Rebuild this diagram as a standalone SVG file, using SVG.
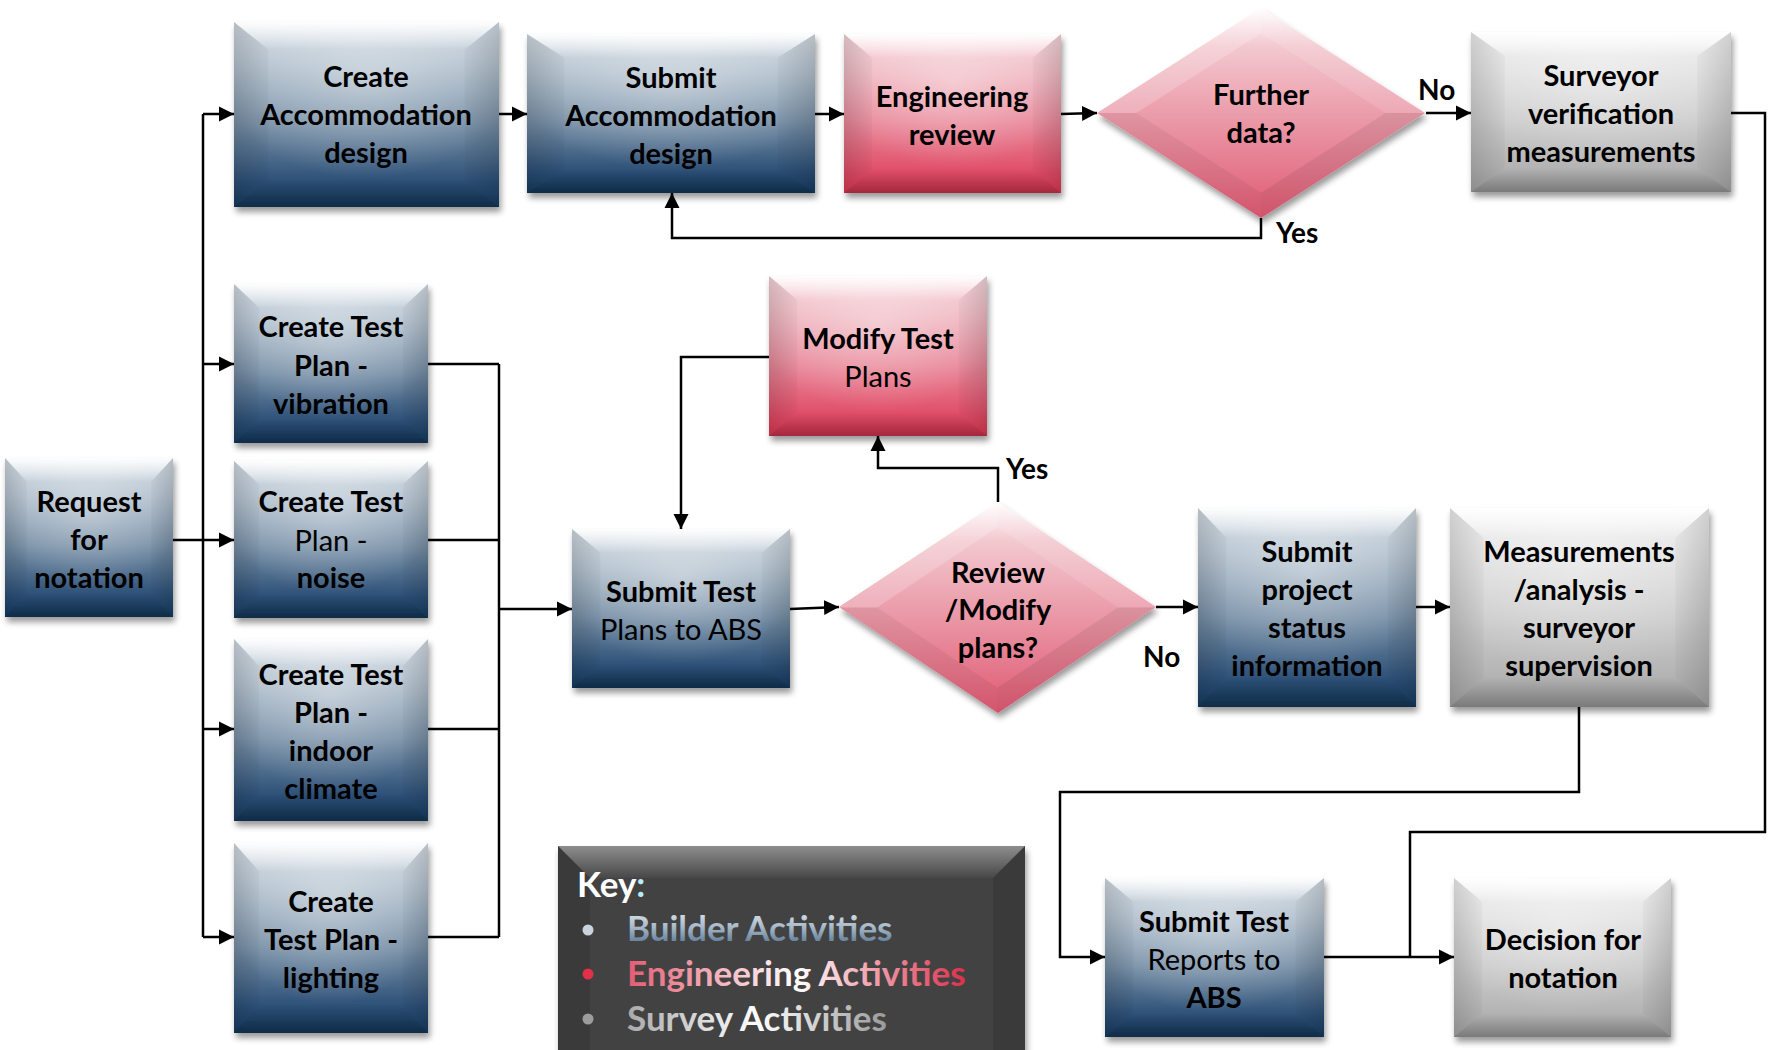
<svg xmlns="http://www.w3.org/2000/svg" xmlns:xlink="http://www.w3.org/1999/xlink" width="1769" height="1050" viewBox="0 0 1769 1050">
<style>
.t{font-family:Lato,"Liberation Sans",sans-serif;font-weight:700;font-size:29px;text-anchor:middle;fill:#000}
.r{font-weight:400}
.lb{font-family:Lato,"Liberation Sans",sans-serif;font-weight:700;font-size:28px;fill:#000}
.c{fill:none;stroke:#000;stroke-width:2.5}
.ca{fill:none;stroke:#000;stroke-width:2.5;marker-end:url(#arr)}
.blue{fill:url(#gBlue);filter:url(#sh)}
.red{fill:url(#gRed);filter:url(#sh)}
.gray{fill:url(#gGray);filter:url(#sh)}
.kt{font-family:Lato,"Liberation Sans",sans-serif;font-weight:700;font-size:35px}
</style>
<defs>
<filter id="sh" x="-10%" y="-10%" width="125%" height="125%">
<feGaussianBlur in="SourceAlpha" stdDeviation="3"/>
<feOffset dx="2" dy="5" result="o"/>
<feComponentTransfer><feFuncA type="linear" slope="0.4"/></feComponentTransfer>
<feMerge><feMergeNode/><feMergeNode in="SourceGraphic"/></feMerge>
</filter>
<linearGradient id="gBlue" x1="0" y1="0" x2="0" y2="1">
<stop offset="0" stop-color="#d6dee6"/><stop offset="0.25" stop-color="#b0bfcc"/><stop offset="0.55" stop-color="#7890a7"/><stop offset="0.85" stop-color="#2f5279"/><stop offset="1" stop-color="#143a5f"/>
</linearGradient>
<linearGradient id="gRed" x1="0" y1="0" x2="0" y2="1">
<stop offset="0" stop-color="#f7d9de"/><stop offset="0.25" stop-color="#f0b8c2"/><stop offset="0.55" stop-color="#e98a9b"/><stop offset="0.85" stop-color="#e1506a"/><stop offset="1" stop-color="#da3550"/>
</linearGradient>
<linearGradient id="gGray" x1="0" y1="0" x2="0" y2="1">
<stop offset="0" stop-color="#f2f2f2"/><stop offset="0.25" stop-color="#e2e2e2"/><stop offset="0.55" stop-color="#cdcdcd"/><stop offset="0.85" stop-color="#b3b3b3"/><stop offset="1" stop-color="#a3a3a3"/>
</linearGradient>
<radialGradient id="glow" cx="0.5" cy="0.3" r="0.55">
<stop offset="0" stop-color="#fff" stop-opacity="0.35"/><stop offset="1" stop-color="#fff" stop-opacity="0"/>
</radialGradient>
<linearGradient id="gRedD" x1="0" y1="0" x2="0" y2="1">
<stop offset="0" stop-color="#ffffff"/><stop offset="0.18" stop-color="#f3c9d0"/><stop offset="0.5" stop-color="#eb9dab"/><stop offset="1" stop-color="#e05a73"/>
</linearGradient>
<linearGradient id="bevTop" x1="0" y1="0" x2="0" y2="1">
<stop offset="0" stop-color="#fff" stop-opacity="0.95"/><stop offset="1" stop-color="#fff" stop-opacity="0"/>
</linearGradient>
<linearGradient id="bevBot" x1="0" y1="0" x2="0" y2="1">
<stop offset="0" stop-color="#000" stop-opacity="0"/><stop offset="1" stop-color="#000" stop-opacity="0.25"/>
</linearGradient>
<linearGradient id="bevL" x1="0" y1="0" x2="1" y2="0">
<stop offset="0" stop-color="#000" stop-opacity="0.14"/><stop offset="1" stop-color="#000" stop-opacity="0.03"/>
</linearGradient>
<linearGradient id="bevR" x1="1" y1="0" x2="0" y2="0">
<stop offset="0" stop-color="#000" stop-opacity="0.14"/><stop offset="1" stop-color="#000" stop-opacity="0.03"/>
</linearGradient>
<linearGradient id="kTop" x1="0" y1="0" x2="0" y2="1">
<stop offset="0" stop-color="#fff" stop-opacity="0.4"/><stop offset="1" stop-color="#fff" stop-opacity="0.03"/>
</linearGradient>
<linearGradient id="gBuild" x1="0" y1="0" x2="0" y2="1">
<stop offset="0" stop-color="#eef2f6"/><stop offset="0.5" stop-color="#a7b8c8"/><stop offset="1" stop-color="#4a6b8a"/>
</linearGradient>
<linearGradient id="gEng" x1="0" y1="0" x2="1" y2="0">
<stop offset="0" stop-color="#e45b72"/><stop offset="0.5" stop-color="#ffffff"/><stop offset="1" stop-color="#dc2f4a"/>
</linearGradient>
<linearGradient id="gSur" x1="0" y1="0" x2="1" y2="0">
<stop offset="0" stop-color="#a9a9a9"/><stop offset="0.5" stop-color="#ffffff"/><stop offset="1" stop-color="#9a9a9a"/>
</linearGradient>
<symbol id="bev" viewBox="0 0 100 100" preserveAspectRatio="none">
<rect width="100" height="100" fill="url(#glow)"/>
<polygon points="0,0 100,0 87,15 13,15" fill="url(#bevTop)"/>
<polygon points="0,0 13,15 13,85 0,100" fill="url(#bevL)"/>
<polygon points="100,0 87,15 87,85 100,100" fill="url(#bevR)"/>
<polygon points="0,100 13,85 87,85 100,100" fill="url(#bevBot)"/>
</symbol>
<symbol id="dbev" viewBox="0 0 100 100" preserveAspectRatio="none">
<polygon points="0,50 50,0 50,12 12,50" fill="#fff" fill-opacity="0.2"/>
<polygon points="50,0 100,50 88,50 50,12" fill="#fff" fill-opacity="0.12"/>
<polygon points="100,50 50,100 50,88 88,50" fill="#000" fill-opacity="0.07"/>
<polygon points="0,50 12,50 50,88 50,100" fill="#000" fill-opacity="0.05"/>
</symbol>
<marker id="arr" markerUnits="userSpaceOnUse" markerWidth="16" markerHeight="16" viewBox="0 0 16 16" refX="15" refY="8" orient="auto">
<path d="M0,0.5 L15,8 L0,15.5 z" fill="#000"/>
</marker>
</defs>
<rect width="1769" height="1050" fill="#fff"/>

<g id="connectors">
<path class="c" d="M173,540 H203" stroke-width="3.5"/>
<path class="c" d="M203,114 V937"/>
<path class="ca" d="M203,114 H234"/>
<path class="ca" d="M203,364 H234"/>
<path class="ca" d="M203,540 H234"/>
<path class="ca" d="M203,729 H234"/>
<path class="ca" d="M203,937 H234"/>
<path class="c" d="M428,364 H499 M428,540 H499 M428,729 H499 M428,937 H499 M499,364 V937"/>
<path class="ca" d="M499,609 H572"/>
<path class="ca" d="M499,114 H527"/>
<path class="ca" d="M815,114 H844"/>
<path class="ca" d="M1061,114 L1097,113"/>
<path class="ca" d="M1426,113 H1471"/>
<path class="ca" d="M1261,218 V238 H672 V193"/>
<path class="c" d="M1731,113 H1765 V832 H1410 V957"/>
<path class="ca" d="M790,609 L839,607"/>
<path class="ca" d="M998,502 V468 H878 V436"/>
<path class="ca" d="M769,357 H681 V529"/>
<path class="ca" d="M1156,607 H1198"/>
<path class="ca" d="M1416,607 H1450"/>
<path class="ca" d="M1579,707 V792 H1060 V957 H1105"/>
<path class="ca" d="M1324,957 H1454"/>
<text class="lb" x="1418" y="100">No</text>
<text class="lb" x="1276" y="243">Yes</text>
<text class="lb" x="1006" y="479">Yes</text>
<text class="lb" x="1143" y="667">No</text>
</g>

<g id="n-create-acc">
<rect class="blue" x="234" y="22" width="265" height="185"/>
<use xlink:href="#bev" x="234" y="22" width="265" height="185"/>
<text class="t" x="366" y="87">Create</text>
<text class="t" x="366" y="125">Accommodation</text>
<text class="t" x="366" y="163">design</text>
</g>
<g id="n-submit-acc">
<rect class="blue" x="527" y="34" width="288" height="159"/>
<use xlink:href="#bev" x="527" y="34" width="288" height="159"/>
<text class="t" x="671" y="88">Submit</text>
<text class="t" x="671" y="126">Accommodation</text>
<text class="t" x="671" y="164">design</text>
</g>
<g id="n-eng-review">
<rect class="red" x="844" y="34" width="217" height="159"/>
<use xlink:href="#bev" x="844" y="34" width="217" height="159"/>
<text class="t" x="952" y="107">Engineering</text>
<text class="t" x="952" y="145">review</text>
</g>
<g id="n-further">
<polygon points="1261,8 1425,113 1261,218 1097,113" fill="url(#gRedD)" filter="url(#sh)"/>
<use xlink:href="#dbev" x="1097" y="8" width="328" height="210"/>
<text class="t" x="1261" y="105">Further</text>
<text class="t" x="1261" y="143">data?</text>
</g>
<g id="n-surveyor-verif">
<rect class="gray" x="1471" y="32" width="260" height="160"/>
<use xlink:href="#bev" x="1471" y="32" width="260" height="160"/>
<text class="t" x="1601" y="86">Surveyor</text>
<text class="t" x="1601" y="124">verification</text>
<text class="t" x="1601" y="162">measurements</text>
</g>
<g id="n-request">
<rect class="blue" x="5" y="458" width="168" height="159"/>
<use xlink:href="#bev" x="5" y="458" width="168" height="159"/>
<text class="t" x="89" y="512">Request</text>
<text class="t" x="89" y="550">for</text>
<text class="t" x="89" y="588">notation</text>
</g>
<g id="n-plan-vibration">
<rect class="blue" x="234" y="284" width="194" height="159"/>
<use xlink:href="#bev" x="234" y="284" width="194" height="159"/>
<text class="t" x="331" y="337">Create Test</text>
<text class="t" x="331" y="376">Plan -</text>
<text class="t" x="331" y="414">vibration</text>
</g>
<g id="n-plan-noise">
<rect class="blue" x="234" y="461" width="194" height="157"/>
<use xlink:href="#bev" x="234" y="461" width="194" height="157"/>
<text class="t" x="331" y="512">Create Test</text>
<text class="t r" x="331" y="551">Plan -</text>
<text class="t" x="331" y="588">noise</text>
</g>
<g id="n-plan-indoor">
<rect class="blue" x="234" y="639" width="194" height="182"/>
<use xlink:href="#bev" x="234" y="639" width="194" height="182"/>
<text class="t" x="331" y="685">Create Test</text>
<text class="t" x="331" y="723">Plan -</text>
<text class="t" x="331" y="761">indoor</text>
<text class="t" x="331" y="799">climate</text>
</g>
<g id="n-plan-lighting">
<rect class="blue" x="234" y="843" width="194" height="190"/>
<use xlink:href="#bev" x="234" y="843" width="194" height="190"/>
<text class="t" x="331" y="912">Create</text>
<text class="t" x="331" y="950">Test Plan -</text>
<text class="t" x="331" y="988">lighting</text>
</g>
<g id="n-submit-plans">
<rect class="blue" x="572" y="529" width="218" height="159"/>
<use xlink:href="#bev" x="572" y="529" width="218" height="159"/>
<text class="t" x="681" y="602">Submit Test</text>
<text class="t r" x="681" y="640">Plans to ABS</text>
</g>
<g id="n-modify">
<rect class="red" x="769" y="276" width="218" height="160"/>
<use xlink:href="#bev" x="769" y="276" width="218" height="160"/>
<text class="t" x="878" y="349">Modify Test</text>
<text class="t r" x="878" y="387">Plans</text>
</g>
<g id="n-review">
<polygon points="998,502 1156,607 998,713 839,607" fill="url(#gRedD)" filter="url(#sh)"/>
<use xlink:href="#dbev" x="839" y="502" width="317" height="211"/>
<text class="t" x="998" y="583">Review</text>
<text class="t" x="998" y="620">/Modify</text>
<text class="t" x="998" y="658">plans?</text>
</g>
<g id="n-submit-status">
<rect class="blue" x="1198" y="508" width="218" height="199"/>
<use xlink:href="#bev" x="1198" y="508" width="218" height="199"/>
<text class="t" x="1307" y="562">Submit</text>
<text class="t" x="1307" y="600">project</text>
<text class="t" x="1307" y="638">status</text>
<text class="t" x="1307" y="676">information</text>
</g>
<g id="n-measurements">
<rect class="gray" x="1450" y="508" width="259" height="199"/>
<use xlink:href="#bev" x="1450" y="508" width="259" height="199"/>
<text class="t" x="1579" y="562">Measurements</text>
<text class="t" x="1579" y="600">/analysis -</text>
<text class="t" x="1579" y="638">surveyor</text>
<text class="t" x="1579" y="676">supervision</text>
</g>
<g id="n-submit-reports">
<rect class="blue" x="1105" y="878" width="219" height="159"/>
<use xlink:href="#bev" x="1105" y="878" width="219" height="159"/>
<text class="t" x="1214" y="932">Submit Test</text>
<text class="t r" x="1214" y="970">Reports to</text>
<text class="t" x="1214" y="1008">ABS</text>
</g>
<g id="n-decision">
<rect class="gray" x="1454" y="878" width="217" height="159"/>
<use xlink:href="#bev" x="1454" y="878" width="217" height="159"/>
<text class="t" x="1563" y="950">Decision for</text>
<text class="t" x="1563" y="988">notation</text>
</g>

<g id="key">
<rect x="558" y="846" width="467" height="220" fill="#424242" filter="url(#sh)"/>
<polygon points="558,846 1025,846 993,878 590,878" fill="url(#kTop)"/>
<polygon points="558,846 590,878 590,1050 558,1050" fill="#000" fill-opacity="0.12"/>
<polygon points="1025,846 993,878 993,1050 1025,1050" fill="#000" fill-opacity="0.12"/>
<text class="kt" x="577" y="897" font-size="38" fill="#fff">Key<tspan fill="#b5eefa">:</tspan></text>
<circle cx="588" cy="930" r="5.5" fill="#c8d3dd"/>
<circle cx="588" cy="974" r="5.5" fill="#e0304a"/>
<circle cx="588" cy="1019" r="5.5" fill="#9c9c9c"/>
<text class="kt" x="627" y="941" fill="url(#gBuild)">Builder Activities</text>
<text class="kt" x="627" y="986" fill="url(#gEng)">Engineering Activities</text>
<text class="kt" x="627" y="1031" fill="url(#gSur)">Survey Activities</text>
</g>
</svg>
